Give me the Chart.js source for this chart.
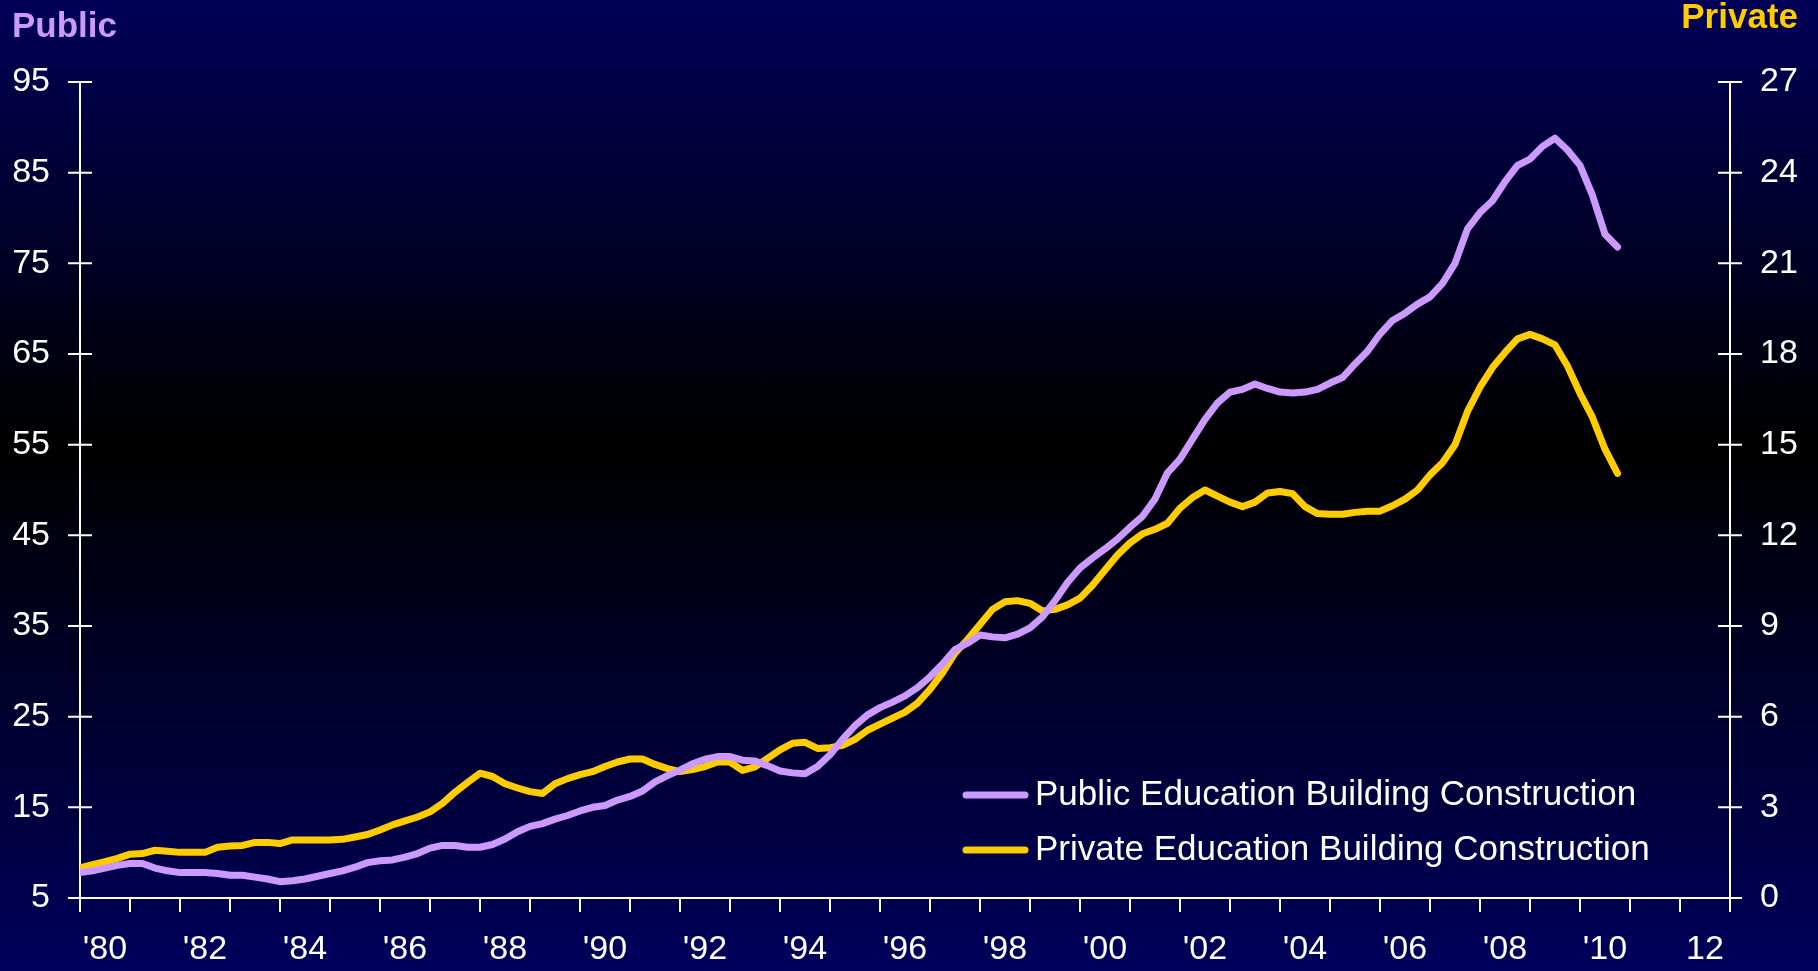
<!DOCTYPE html>
<html>
<head>
<meta charset="utf-8">
<script src="https://cdn.jsdelivr.net/npm/chart.js@4/dist/chart.umd.min.js"></script>
<style>
html, body { margin:0; padding:0; }
body {
	width:1818px; height:971px; overflow:hidden;
	background: linear-gradient(to bottom, #000058 0%, #000000 46%, #00005c 100%);
}
#wrap { position:relative; width:1818px; height:971px; }
</style>
</head>
<body>
<div id="wrap"><canvas id="chart"></canvas></div>
<script>
// quarterly readings, first point = Q1 1980
const startYear = 1980;
const stepYears = 0.25;
const yearLabels = ["'80","","'82","","'84","","'86","","'88","","'90","","'92","","'94","","'96","","'98","",
	"'00","","'02","","'04","","'06","","'08","","'10","","12",""];

// Public, left axis
const publicValues = [
	7.8, 8.0, 8.3, 8.6,
	8.8, 8.8, 8.3, 8.0,
	7.8, 7.8, 7.8, 7.7,
	7.5, 7.5, 7.3, 7.1,
	6.8, 6.9, 7.1, 7.4,
	7.7, 8.0, 8.4, 8.9,
	9.1, 9.2, 9.5, 9.9,
	10.5, 10.8, 10.8, 10.6,
	10.6, 10.9, 11.5, 12.3,
	12.9, 13.2, 13.7, 14.1,
	14.6, 15.0, 15.2, 15.8,
	16.2, 16.8, 17.8, 18.5,
	19.1, 19.8, 20.3, 20.6,
	20.6, 20.2, 20.1, 19.6,
	19.0, 18.8, 18.7, 19.5,
	20.8, 22.5, 24.0, 25.2,
	26.0, 26.6, 27.3, 28.2,
	29.4, 30.8, 32.4, 33.1,
	34.0, 33.8, 33.7, 34.1,
	34.8, 36.0, 37.8, 39.8,
	41.4, 42.5, 43.5, 44.6,
	45.9, 47.1, 49.0, 51.9,
	53.4, 55.6, 57.8, 59.6,
	60.8, 61.1, 61.7, 61.2,
	60.8, 60.7, 60.8, 61.1,
	61.8, 62.4, 63.9, 65.3,
	67.2, 68.7, 69.5, 70.5,
	71.3, 72.8, 75.0, 78.8,
	80.6, 81.9, 84.0, 85.8,
	86.5, 87.9, 88.8, 87.5,
	85.8, 82.5, 78.2, 76.8
];

// Private, right axis
const privateValues = [
	1.00, 1.10, 1.20, 1.31,
	1.45, 1.47, 1.58, 1.55,
	1.51, 1.51, 1.51, 1.68,
	1.72, 1.74, 1.84, 1.84,
	1.80, 1.92, 1.92, 1.92,
	1.92, 1.94, 2.02, 2.10,
	2.25, 2.42, 2.55, 2.68,
	2.85, 3.13, 3.50, 3.82,
	4.13, 4.02, 3.78, 3.64,
	3.52, 3.46, 3.78, 3.95,
	4.08, 4.18, 4.35, 4.50,
	4.60, 4.60, 4.42, 4.28,
	4.18, 4.25, 4.35, 4.50,
	4.50, 4.22, 4.34, 4.62,
	4.90, 5.12, 5.15, 4.95,
	4.97, 5.05, 5.25, 5.55,
	5.75, 5.95, 6.15, 6.45,
	6.90, 7.45, 8.10, 8.55,
	9.05, 9.55, 9.80, 9.84,
	9.75, 9.50, 9.55, 9.70,
	9.92, 10.35, 10.85, 11.35,
	11.75, 12.05, 12.20, 12.40,
	12.90, 13.25, 13.50, 13.30,
	13.10, 12.95, 13.10, 13.40,
	13.45, 13.38, 12.95, 12.72,
	12.70, 12.70, 12.76, 12.80,
	12.80, 12.98, 13.20, 13.50,
	14.00, 14.40, 15.00, 16.10,
	16.90, 17.55, 18.05, 18.50,
	18.65, 18.50, 18.30, 17.60,
	16.70, 15.90, 14.85, 14.05
];

const seriesNames = ['Public Education Building Construction', 'Private Education Building Construction'];
const publicColor = '#cc99ff';
const privateColor = '#ffcc00';
const font_family = '"Liberation Sans", Arial, sans-serif';

function to_points(values){
	return values.map((v, i) => ({ x: startYear + i*stepYears, y: v }));
}

let axis_lines = {
	id: 'axis_lines',
	beforeDatasetsDraw: function(chart){
		let ctx = chart.ctx, a = chart.chartArea, s = chart.scales;
		ctx.save();
		ctx.strokeStyle = '#ffffff';
		ctx.lineWidth = 2;
		ctx.beginPath();
		ctx.moveTo(a.left, a.top); ctx.lineTo(a.left, a.bottom);
		ctx.moveTo(a.right, a.top); ctx.lineTo(a.right, a.bottom);
		ctx.moveTo(a.left-12, a.bottom); ctx.lineTo(a.right+12, a.bottom);
		s.y.ticks.forEach((t)=>{
			let p = s.y.getPixelForValue(t.value);
			ctx.moveTo(a.left-12, p); ctx.lineTo(a.left+12, p);
		})
		s.y2.ticks.forEach((t)=>{
			let p = s.y2.getPixelForValue(t.value);
			ctx.moveTo(a.right-12, p); ctx.lineTo(a.right+12, p);
		})
		s.x.ticks.forEach((t)=>{
			let p = s.x.getPixelForValue(t.value);
			ctx.moveTo(p, a.bottom); ctx.lineTo(p, a.bottom+14);
		})
		ctx.stroke();
		ctx.restore();
	}
}

let titles_and_legend = {
	id: 'titles_and_legend',
	afterDraw: function(chart){
		let ctx = chart.ctx;
		ctx.save();
		ctx.font = 'bold 35px ' + font_family;
		ctx.textBaseline = 'alphabetic';
		ctx.fillStyle = publicColor;
		ctx.textAlign = 'left';
		ctx.fillText('Public', 12, 37);
		ctx.fillStyle = privateColor;
		ctx.textAlign = 'right';
		ctx.fillText('Private', 1798, 28);

		ctx.font = '35px ' + font_family;
		ctx.textAlign = 'left';
		ctx.textBaseline = 'middle';
		chart.data.datasets.forEach((ds, i)=>{
			let y = 795 + i*55;
			ctx.strokeStyle = ds.borderColor;
			ctx.lineWidth = 7;
			ctx.lineCap = 'round';
			ctx.beginPath();
			ctx.moveTo(966, y); ctx.lineTo(1025, y);
			ctx.stroke();
			ctx.fillStyle = '#ffffff';
			ctx.fillText(ds.label, 1035, y);
		})
		ctx.restore();
	}
}

window.onload = () => {
	new Chart('chart', {
		type: 'line',
		data: {
			datasets: [
				{
					label: seriesNames[0],
					data: to_points(publicValues),
					yAxisID: 'y',
					borderColor: publicColor,
					borderWidth: 7,
					pointRadius: 0,
					tension: 0,
					borderJoinStyle: 'round',
					borderCapStyle: 'round'
				},
				{
					label: seriesNames[1],
					data: to_points(privateValues),
					yAxisID: 'y2',
					borderColor: privateColor,
					borderWidth: 7,
					pointRadius: 0,
					tension: 0,
					borderJoinStyle: 'round',
					borderCapStyle: 'round'
				}
			]
		},
		options: {
			responsive: true,
			maintainAspectRatio: false,
			animation: false,
			layout: { padding: { top: 82, left: 0, right: 0, bottom: 0 } },
			plugins: { legend: { display: false }, tooltip: { enabled: false } },
			scales: {
				x: {
					type: 'linear',
					min: startYear,
					max: startYear + yearLabels.length - 1,
					grid: { display: false, drawTicks: false },
					border: { display: false },
					afterFit: (scale)=>{ scale.height = 73; },
					afterBuildTicks: (scale)=>{
						scale.ticks = yearLabels.map((l, i) => ({ value: startYear + i }));
					},
					ticks: {
						autoSkip: false,
						maxRotation: 0,
						padding: 31,
						labelOffset: 25,
						color: '#ffffff',
						font: { size: 34, family: font_family },
						callback: (v) => yearLabels[v - startYear]
					}
				},
				y: {
					position: 'left',
					min: 5, max: 95,
					grid: { display: false, drawTicks: false },
					border: { display: false },
					afterFit: (scale)=>{ scale.width = 80; },
					ticks: {
						stepSize: 10,
						padding: 30,
						color: '#ffffff',
						font: { size: 34, family: font_family }
					}
				},
				y2: {
					position: 'right',
					min: 0, max: 27,
					grid: { display: false, drawTicks: false },
					border: { display: false },
					afterFit: (scale)=>{ scale.width = 88; },
					ticks: {
						stepSize: 3,
						padding: 30,
						color: '#ffffff',
						font: { size: 34, family: font_family }
					}
				}
			}
		},
		plugins: [axis_lines, titles_and_legend]
	})
};
</script>
</body>
</html>
